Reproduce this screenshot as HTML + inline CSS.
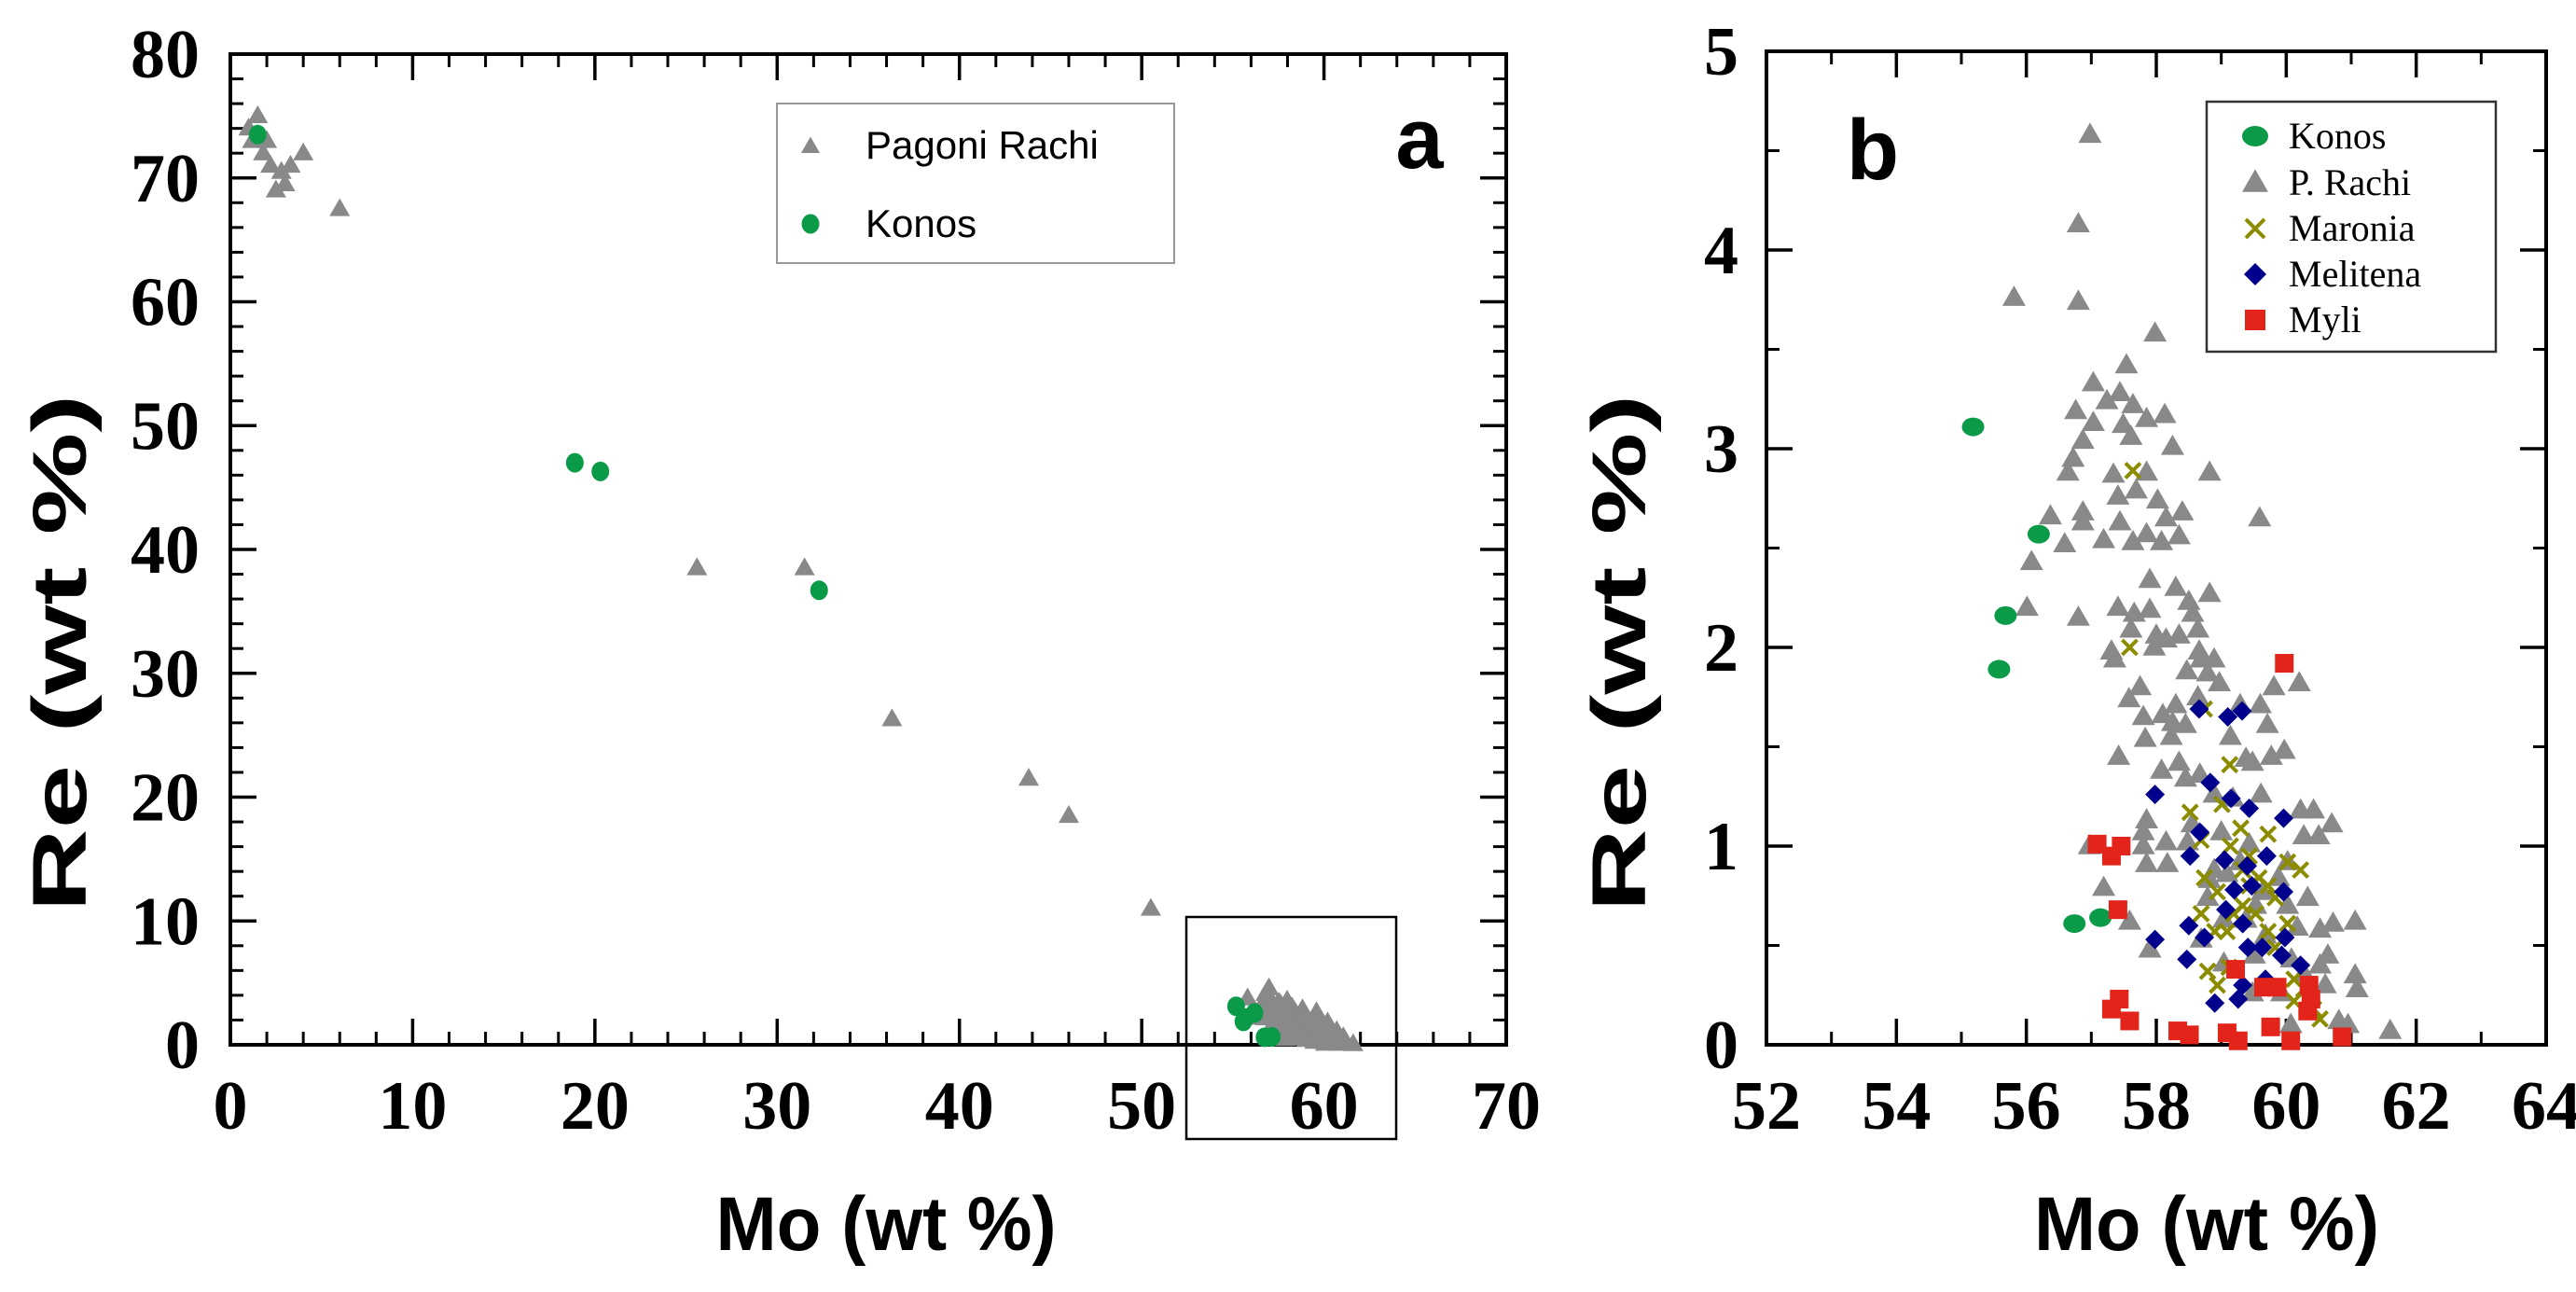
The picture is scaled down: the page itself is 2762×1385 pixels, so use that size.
<!DOCTYPE html>
<html><head><meta charset="utf-8"><style>
html,body{margin:0;padding:0;background:#fff;}
svg{display:block;}
</style></head><body>
<svg id="fig" xmlns="http://www.w3.org/2000/svg" width="2762" height="1385" viewBox="0 0 2762 1385"></svg>
<script>
// ---------- Panel a data ----------
const aRachiX = [1,1.5,1.2,2,2.2,2.5,3,3.3,4,1.8,2.8,6,25.6,31.5,36.3,43.8,46,50.5];
const aRachiY = [74,75,73,73,71,69,69.5,71,72,72,70.5,67.5,38.5,38.5,26.3,21.5,18.5,11];
const aKonosX = [1.5,18.9,20.3,32.3];
const aKonosY = [73.5,47,46.3,36.7];
const aXTicks = [0,10,20,30,40,50,60,70];
const aYTicks = [0,10,20,30,40,50,60,70,80];
// ---------- Panel b data ----------
const bKonosX = [55.18,56.19,55.68,55.58,56.74,57.14];
const bKonosY = [3.11,2.57,2.16,1.89,0.61,0.64];
const bMyliX = [59.97,57.09,57.31,57.46,57.41,57.43,57.31,57.59,58.33,58.51,59.09,59.26,59.76,60.07,60.86,59.22,59.65,59.86,60.35,60.38,60.33];
const bMyliY = [1.92,1.01,0.95,1.0,0.68,0.23,0.18,0.12,0.07,0.05,0.06,0.02,0.09,0.02,0.04,0.38,0.29,0.29,0.3,0.23,0.17];
const bMeliX = [57.98,57.98,58.5,58.47,58.67,58.52,58.66,58.83,59.1,59.32,59.15,59.43,59.05,59.4,59.7,59.2,59.47,59.96,59.96,59.07,59.33,58.74,59.63,59.93,60.22,59.68,59.33,58.9,59.26,59.98,59.41];
const bMeliY = [1.26,0.53,0.6,0.43,1.07,0.95,1.69,1.32,1.65,1.68,1.24,1.19,0.93,0.9,0.95,0.78,0.8,1.14,0.77,0.68,0.61,0.54,0.49,0.45,0.4,0.33,0.3,0.21,0.23,0.54,0.49];
const bMaroX = [57.64,57.59,58.74,59.13,58.52,59.01,59.3,59.72,58.69,59.14,59.43,59.33,59.58,60.22,60.02,58.74,58.94,59.43,59.72,59.83,58.69,59.19,59.33,58.9,59.09,59.53,59.72,60.02,59.83,59.12,58.79,58.94,60.12,60.27,60.12,60.42,60.52];
const bMaroY = [2.89,2.0,1.69,1.41,1.17,1.21,1.09,1.06,1.03,1.0,0.95,0.88,0.84,0.88,0.92,0.84,0.77,0.8,0.8,0.74,0.66,0.66,0.7,0.57,0.57,0.66,0.57,0.61,0.49,0.39,0.37,0.3,0.33,0.28,0.22,0.18,0.13];
const bRachiX = [56.98,56.8,55.81,56.8,57.98,57.54,57.03,56.76,57.24,57.44,57.64,57.03,57.49,57.85,58.13,56.87,57.61,58.25,56.72,56.64,57.34,57.85,58.82,57.41,57.69,58.02,56.87,56.37,57.44,58.15,58.4,59.59,56.87,56.59,57.19,57.64,57.85,58.08,58.35,56.08,57.9,58.3,58.82,58.5,56.01,57.41,57.66,57.9,56.8,58.56,57.61,58.64,58.0,58.15,58.35,57.31,57.97,58.66,57.36,58.69,58.89,58.47,58.79,59.81,60.2,58.97,57.75,57.58,58.64,58.3,59.29,59.6,57.8,58.1,58.25,58.45,59.71,59.14,57.83,58.23,59.38,59.97,59.77,57.42,58.35,59.48,58.08,58.67,58.45,58.89,59.18,59.61,60.22,60.42,57.85,58.55,60.7,57.8,59.0,60.27,60.5,56.97,57.8,58.15,58.48,59.43,57.85,58.17,58.89,60.02,59.29,58.82,59.09,59.88,57.19,59.63,60.33,58.79,59.53,60.02,59.04,59.38,57.59,61.06,60.72,60.17,60.52,58.69,59.68,57.9,59.51,60.64,60.08,59.04,60.52,61.06,60.27,60.6,61.09,59.48,59.93,60.81,60.95,60.07,61.6];
const bRachiY = [4.58,4.13,3.76,3.74,3.58,3.42,3.33,3.19,3.24,3.28,3.22,3.13,3.12,3.15,3.17,3.04,3.06,3.01,2.95,2.88,2.87,2.88,2.88,2.76,2.79,2.74,2.68,2.66,2.63,2.65,2.68,2.65,2.63,2.52,2.54,2.53,2.57,2.53,2.56,2.43,2.34,2.3,2.27,2.23,2.2,2.2,2.17,2.19,2.15,2.17,2.09,2.09,2.06,2.04,2.06,1.98,2.0,1.98,1.94,1.94,1.94,1.88,1.87,1.8,1.82,1.82,1.8,1.74,1.75,1.71,1.71,1.71,1.65,1.66,1.62,1.61,1.61,1.55,1.54,1.55,1.44,1.48,1.45,1.45,1.42,1.42,1.38,1.36,1.34,1.26,1.24,1.26,1.18,1.18,1.13,1.11,1.11,1.07,1.07,1.05,1.05,1.0,1.0,1.02,1.02,1.01,0.91,0.91,0.88,0.92,0.92,0.83,0.86,0.84,0.79,0.77,0.74,0.74,0.7,0.7,0.63,0.63,0.62,0.62,0.61,0.59,0.58,0.53,0.55,0.48,0.45,0.45,0.43,0.41,0.4,0.35,0.36,0.3,0.28,0.26,0.26,0.12,0.1,0.1,0.07];
const bXTicks = [52,54,56,58,60,62,64];
const bYTicks = [0,1,2,3,4,5];

const NS = "http://www.w3.org/2000/svg";
const svg = document.getElementById('fig');
function mk(tag, attrs, parent){ const e=document.createElementNS(NS,tag); for(const k in attrs) e.setAttribute(k,attrs[k]); (parent||svg).appendChild(e); return e; }
function scale(d0,d1,p0,p1){ return v => p0 + (v-d0)/(d1-d0)*(p1-p0); }

const ax = scale(0,70,247,1615), ay = scale(0,80,1120,58);
const bx = scale(52,64,1894,2730), by = scale(0,5,1120,55);

const GRAY="#898989", GREEN="#0b9a48", OLIVE="#8c8c00", NAVY="#00008c", RED="#e3241b";

function tri(g,x,y,s,c){ const h=s*0.87; const p=mk('polygon',{points:`${x},${y-h*0.6} ${x-s/2},${y+h*0.4} ${x+s/2},${y+h*0.4}`,fill:c},g);   }
function circ(g,x,y,rx,ry,c,name){ const p=mk('ellipse',{cx:x,cy:y,rx:rx,ry:ry,fill:c},g);   }
function sq(g,x,y,s,c){ const p=mk('rect',{x:x-s/2,y:y-s/2,width:s,height:s,fill:c},g);   }
function dia(g,x,y,s,c){ const p=mk('polygon',{points:`${x},${y-s/2} ${x+s/2},${y} ${x},${y+s/2} ${x-s/2},${y}`,fill:c},g);   }
function cross(g,x,y,s,c){ const p=mk('path',{d:`M${x-s/2},${y-s/2}L${x+s/2},${y+s/2}M${x-s/2},${y+s/2}L${x+s/2},${y-s/2}`,stroke:c,'stroke-width':4},g);   }

function axes(L,R,T,B, xs, ys, xTicks, yTicks, xMinorStep, yMinorStep, xr, yr, labX, name){
  const g=mk('g',{});  
  for(let v=xr[0]; v<=xr[1]+1e-9; v+=xMinorStep){ const x=xs(v);
    mk('line',{x1:x,y1:B,x2:x,y2:B-14,stroke:'#000','stroke-width':3},g);
    mk('line',{x1:x,y1:T,x2:x,y2:T+14,stroke:'#000','stroke-width':3},g); }
  for(let v=yr[0]; v<=yr[1]+1e-9; v+=yMinorStep){ const y=ys(v);
    mk('line',{x1:L,y1:y,x2:L+14,y2:y,stroke:'#000','stroke-width':3},g);
    mk('line',{x1:R,y1:y,x2:R-14,y2:y,stroke:'#000','stroke-width':3},g); }
  xTicks.forEach(v=>{ const x=xs(v);
    mk('line',{x1:x,y1:B,x2:x,y2:B-28,stroke:'#000','stroke-width':3.5},g);
    mk('line',{x1:x,y1:T,x2:x,y2:T+28,stroke:'#000','stroke-width':3.5},g);
    const t=mk('text',{x:x,y:1210,'text-anchor':'middle','font-family':'"Liberation Serif",serif','font-weight':'bold','font-size':74},g);
    t.textContent=v;   });
  yTicks.forEach(v=>{ const y=ys(v);
    mk('line',{x1:L,y1:y,x2:L+28,y2:y,stroke:'#000','stroke-width':3.5},g);
    mk('line',{x1:R,y1:y,x2:R-28,y2:y,stroke:'#000','stroke-width':3.5},g);
    const t=mk('text',{x:labX,y:y+25,'text-anchor':'end','font-family':'"Liberation Serif",serif','font-weight':'bold','font-size':74},g);
    t.textContent=v;   });
  mk('rect',{x:L,y:T,width:R-L,height:B-T,fill:'none',stroke:'#000','stroke-width':4},g);
}

// ---- Panel a ----
axes(247,1615,58,1120, ax, ay, aXTicks, aYTicks, 2, 2, [0,70],[0,80], 214, 'panel-a');
const ga=mk('g',{});  
aRachiX.forEach((v,i)=>tri(ga,ax(v),ay(aRachiY[i]),22,GRAY));
bRachiX.forEach((v,i)=>tri(ga,ax(v),ay(bRachiY[i]),22,GRAY));
aKonosX.forEach((v,i)=>circ(ga,ax(v),ay(aKonosY[i]),9.5,10.5,GREEN,'konos-point'));
bKonosX.forEach((v,i)=>circ(ga,ax(v),ay(bKonosY[i]),9.5,10.5,GREEN,'konos-point'));
const inset=mk('rect',{x:1272,y:983,width:225,height:238,fill:'none',stroke:'#000','stroke-width':2.5});
 
const la=mk('g',{});  
mk('rect',{x:833,y:111,width:426,height:171,fill:'#fff',stroke:'#999','stroke-width':2},la);
tri(la,869,157,20,GRAY);
circ(la,869,240,9.5,10.5,GREEN,'legend-konos-marker');
let t=mk('text',{x:928,y:170,'font-family':'"Liberation Sans",sans-serif','font-size':42},la); t.textContent='Pagoni Rachi';  
t=mk('text',{x:928,y:254,'font-family':'"Liberation Sans",sans-serif','font-size':42},la); t.textContent='Konos';  
t=mk('text',{x:1522,y:180,'font-family':'"Liberation Sans",sans-serif','font-weight':'bold','font-size':92,'text-anchor':'middle'}); t.textContent='a';  
t=mk('text',{x:950,y:1340,'font-family':'"Liberation Sans",sans-serif','font-weight':'bold','font-size':82,'text-anchor':'middle',textLength:365,lengthAdjust:'spacingAndGlyphs'}); t.textContent='Mo (wt %)';  
t=mk('text',{x:0,y:0,'font-family':'"Liberation Sans",sans-serif','font-weight':'bold','font-size':82,'text-anchor':'middle',transform:'translate(92,700) rotate(-90)',textLength:555,lengthAdjust:'spacingAndGlyphs'}); t.textContent='Re (wt %)';  

// ---- Panel b ----
axes(1894,2730,55,1120, bx, by, bXTicks, bYTicks, 1, 0.5, [52,64],[0,5], 1864, 'panel-b');
const gb=mk('g',{});  
bRachiX.forEach((v,i)=>tri(gb,bx(v),by(bRachiY[i]),25,GRAY));
bKonosX.forEach((v,i)=>circ(gb,bx(v),by(bKonosY[i]),12,10,GREEN,'konos-point'));
bMaroX.forEach((v,i)=>cross(gb,bx(v),by(bMaroY[i]),16,OLIVE));
bMeliX.forEach((v,i)=>dia(gb,bx(v),by(bMeliY[i]),21,NAVY));
bMyliX.forEach((v,i)=>sq(gb,bx(v),by(bMyliY[i]),20,RED));
const lb=mk('g',{});  
mk('rect',{x:2366,y:109,width:310,height:268,fill:'#fff',stroke:'#333','stroke-width':2.5},lb);
const lmy=[146,196,245,294,343];
circ(lb,2418,lmy[0],14,11,GREEN,'legend-konos-marker');
tri(lb,2418,lmy[1],28,GRAY);
cross(lb,2418,lmy[2],20,OLIVE);
dia(lb,2418,lmy[3],24,NAVY);
sq(lb,2418,lmy[4],22,RED);
const names=['Konos','P. Rachi','Maronia','Melitena','Myli'];
names.forEach((n,i)=>{ const tt=mk('text',{x:2454,y:lmy[i]+13,'font-family':'"Liberation Serif",serif','font-size':40},lb); tt.textContent=n;   });
t=mk('text',{x:2008,y:192,'font-family':'"Liberation Sans",sans-serif','font-weight':'bold','font-size':92,'text-anchor':'middle'}); t.textContent='b';  
t=mk('text',{x:2366,y:1340,'font-family':'"Liberation Sans",sans-serif','font-weight':'bold','font-size':82,'text-anchor':'middle',textLength:370,lengthAdjust:'spacingAndGlyphs'}); t.textContent='Mo (wt %)';  
t=mk('text',{x:0,y:0,'font-family':'"Liberation Sans",sans-serif','font-weight':'bold','font-size':82,'text-anchor':'middle',transform:'translate(1764,700) rotate(-90)',textLength:555,lengthAdjust:'spacingAndGlyphs'}); t.textContent='Re (wt %)';  
</script>
</body></html>
